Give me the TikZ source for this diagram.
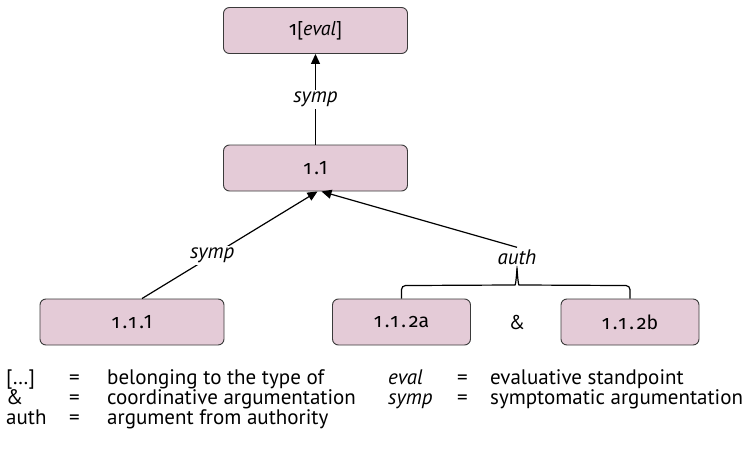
\documentclass[tikz,border=0pt]{standalone}
\usepackage{fontspec}
\setmainfont{PT Sans}
\newfontfamily\digitfont[Numbers=OldStyle,LetterSpace=14]{Fira Sans}
\newfontfamily\boxletterfont{Fira Sans}
\usetikzlibrary{arrows.meta}
\definecolor{boxfill}{HTML}{E4CBD7}
\definecolor{boxline}{HTML}{3A3A3A}
\newcommand{\argnum}[1]{{\digitfont #1}}
\begin{document}
\begin{tikzpicture}[x=1pt,y=-1pt,
  argbox/.style={draw=boxline, line width=0.9pt, fill=boxfill, rounded corners=6pt,
    minimum height=46pt, inner sep=0pt, font=\boxletterfont\fontsize{19.5}{22}\selectfont},
  widebox/.style={argbox, minimum width=184pt},
  narrowbox/.style={argbox, minimum width=138pt},
  support/.style={line width=1.2pt, -{Triangle[length=10pt,width=9pt]}},
  scheme/.style={fill=white, inner sep=2pt, font=\fontsize{21}{24}\selectfont\itshape},
  legend/.style={anchor=base west, inner sep=0pt, font=\fontsize{21}{24}\selectfont}
]
\useasboundingbox (0,0) rectangle (748,453);

% argument structure
\node[widebox] (top) at (315.5,30.5) {\argnum{1}{\normalfont\fontsize{20}{22}\selectfont[\textit{eval}]}};
\node[widebox] (n11) at (315.5,168) {\argnum{1.}1};
\node[widebox] (n111) at (132,322) {\argnum{1.1.}1};
\node[narrowbox] (n112a) at (401.5,322) {\argnum{1.1.2}a};
\node[narrowbox] (n112b) at (630,322) {\argnum{1.1.2}b};
\node[font=\fontsize{20}{24}\selectfont] (amp) at (517,322) {\&};

% supporting arrows
\draw[support] (n11.north) -- node[scheme] (s1) {symp} (top.south);
\draw[support] ([xshift=10pt]n111.north) -- node[scheme, pos=0.4] (s2) {symp} ([xshift=2pt]n11.south);
\node[scheme] (auth) at (517,257) {auth};
\draw[support] (auth.north) -- ([xshift=6pt]n11.south);

% brace joining the coordinative arguments
\coordinate (tip) at (517,270);
\draw[line width=1.2pt, rounded corners=4pt]
  (n112a.north) -- ++(0,-13) -- ([xshift=-6pt]tip |- 0,285)
  .. controls ([xshift=-1pt]tip |- 0,285) and ([yshift=3pt]tip) .. (tip);
\draw[line width=1.2pt, rounded corners=4pt]
  (n112b.north) -- ++(0,-13) -- ([xshift=6pt]tip |- 0,285)
  .. controls ([xshift=1pt]tip |- 0,285) and ([yshift=3pt]tip) .. (tip);

% legend
\node[legend] (k1) at (6,384) {[…]};
\node[legend] (e1) at (69,384) {=};
\node[legend] (d1) at (107,384) {belonging to the type of};
\node[legend] (k2) at (6,404) {\&};
\node[legend] (e2) at (69,404) {=};
\node[legend] (d2) at (107,404) {coordinative argumentation};
\node[legend] (k3) at (6,424) {auth};
\node[legend] (e3) at (69,424) {=};
\node[legend] (d3) at (107,424) {argument from authority};
\node[legend] (k4) at (388,384) {\textit{eval}};
\node[legend] (e4) at (457,384) {=};
\node[legend] (d4) at (490,384) {evaluative standpoint};
\node[legend] (k5) at (388,404) {\textit{symp}};
\node[legend] (e5) at (457,404) {=};
\node[legend] (d5) at (490,404) {symptomatic argumentation};
\end{tikzpicture}
\end{document}
